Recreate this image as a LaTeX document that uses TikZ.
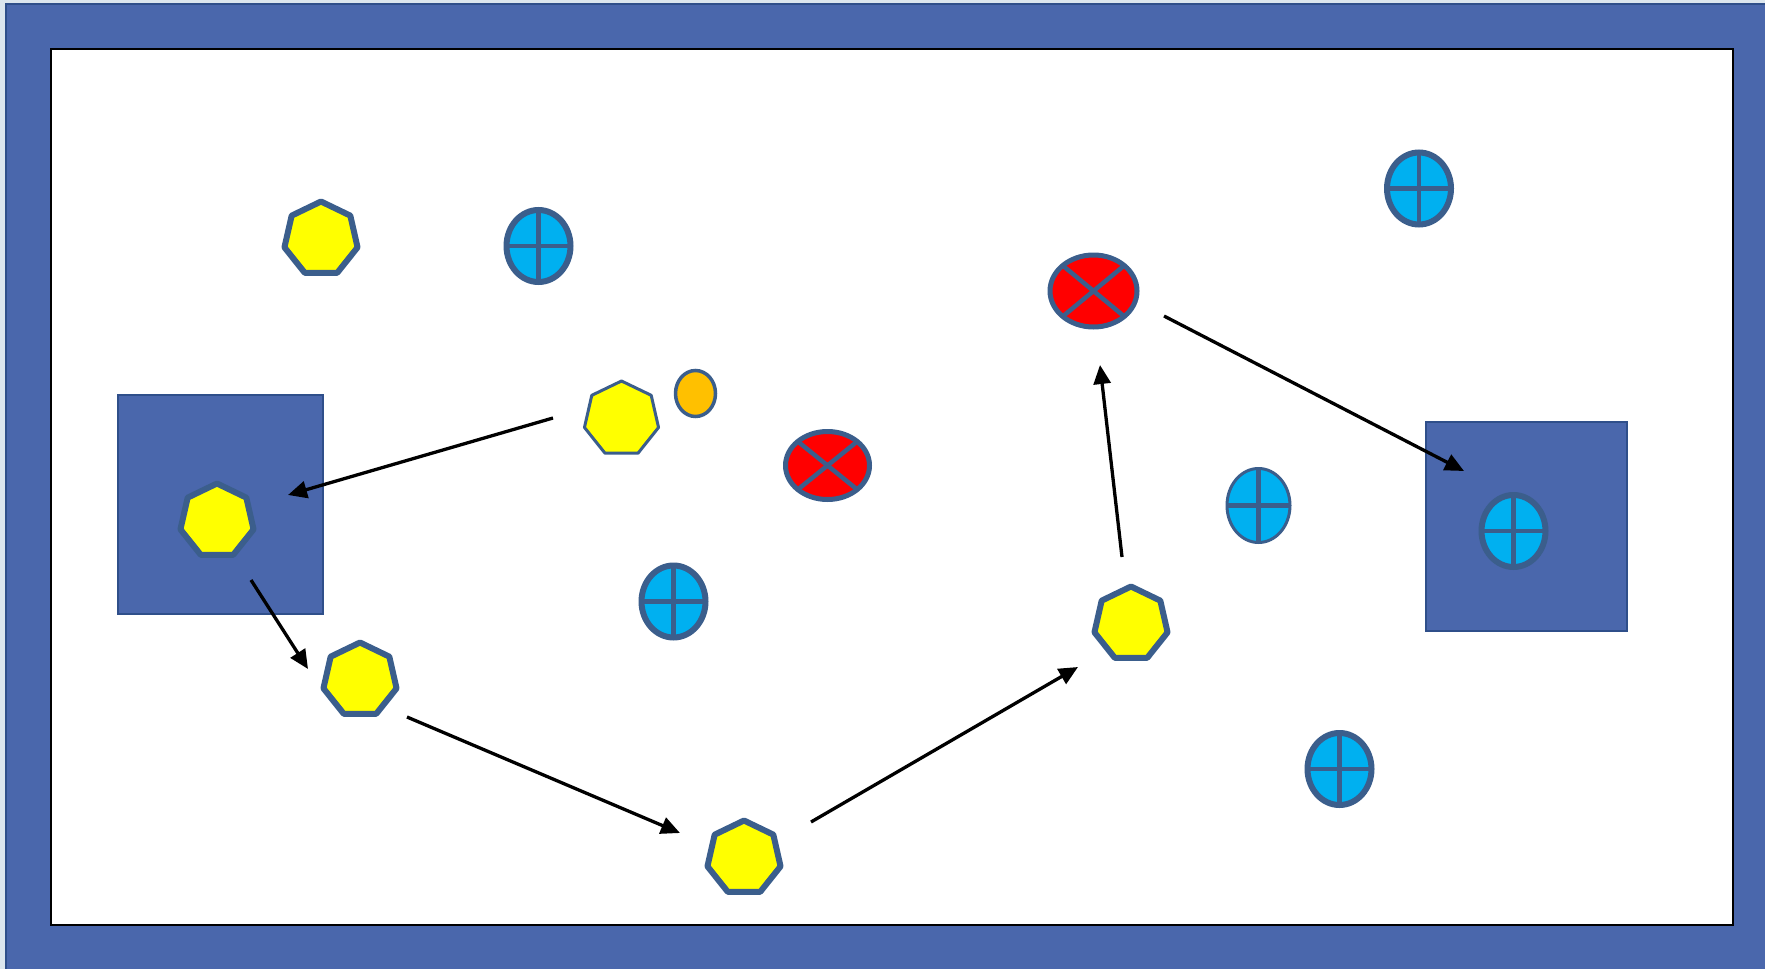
\documentclass[tikz,border=0pt]{standalone}
\usetikzlibrary{shapes.geometric,arrows.meta}
\definecolor{pagebg}{HTML}{DCE6EE}
\definecolor{framebl}{HTML}{4A67AC}
\definecolor{frameedge}{HTML}{2F4F8A}
\definecolor{outl}{HTML}{3B5E8C}
\definecolor{cyanfill}{HTML}{00B0F0}
\definecolor{orangefill}{HTML}{FFC000}
\definecolor{yellowfill}{HTML}{FFFF00}
\tikzset{
  hept/.style={regular polygon, regular polygon sides=7, minimum size=75pt,
    inner sep=0pt, outer sep=0pt, fill=yellowfill, draw=outl, line width=6pt, line join=round},
  heptthin/.style={hept, minimum size=76pt, line width=3pt},
  plus/.style={ellipse, minimum width=64pt, minimum height=72pt, inner sep=0pt,
    outer sep=0pt, fill=cyanfill, draw=outl, line width=6pt},
  plusthin/.style={plus, minimum width=63pt, minimum height=74pt, line width=3pt},
  cross/.style={ellipse, minimum width=84pt, minimum height=68pt, inner sep=0pt,
    outer sep=0pt, fill=red, draw=outl, line width=5pt},
  dot/.style={ellipse, minimum width=40pt, minimum height=46pt, inner sep=0pt,
    outer sep=0pt, fill=orangefill, draw=outl, line width=3.5pt},
  zone/.style={fill=framebl, draw=frameedge, line width=2pt},
  mark line/.style={draw=outl, line width=4.5pt},
  flow/.style={draw=black, line width=3.3pt, -{Triangle[length=19pt,width=17pt]}}
}
\newcommand{\plusmark}[1]{\draw[mark line] (#1.north) -- (#1.south) (#1.west) -- (#1.east);}
\newcommand{\crossmark}[1]{\draw[mark line] (#1.north east) -- (#1.south west) (#1.north west) -- (#1.south east);}
\begin{document}
\begin{tikzpicture}[x=1pt,y=-1pt]
\useasboundingbox (0,0) rectangle (1765,969);
% page background and frame
\fill[pagebg] (0,0) rectangle (1765,969);
\filldraw[fill=framebl, draw=frameedge, line width=2pt] (6,4) rectangle (1775,979);
\filldraw[fill=white, draw=black, line width=2pt] (51,49) rectangle (1733,925);
% shaded zones
\path[zone] (118,395) rectangle (323,614);
\path[zone] (1426,422) rectangle (1627,631);
% heptagons
\node[hept] (h1) at (321,239) {};
\node[heptthin] (h2) at (621.5,419) {};
\node[hept] (h3) at (217,521) {};
\node[hept] (h4) at (360,680) {};
\node[hept] (h5) at (744,858) {};
\node[hept] (h6) at (1131,624) {};
% cyan plus markers
\node[plus] (p1) at (538.5,246) {}; \plusmark{p1}
\node[plus] (p2) at (673.5,601.5) {}; \plusmark{p2}
\node[plus] (p3) at (1419,188.5) {}; \plusmark{p3}
\node[plusthin] (p4) at (1258.5,505.5) {}; \plusmark{p4}
\node[plus] (p5) at (1513.5,531) {}; \plusmark{p5}
\node[plus] (p6) at (1339.5,769) {}; \plusmark{p6}
% red cross markers
\node[cross] (x1) at (827.5,465.5) {}; \crossmark{x1}
\node[cross, minimum width=87pt, minimum height=72pt] (x2) at (1093.5,291) {}; \crossmark{x2}
% orange dot
\node[dot] (d1) at (695.5,393.5) {};
% arrow end points
\coordinate (a1s) at (553,418);  \coordinate (a1e) at (288,495);
\coordinate (a2s) at (251,580);  \coordinate (a2e) at (308,669);
\coordinate (a3s) at (407,717);  \coordinate (a3e) at (680,833);
\coordinate (a4s) at (811,822);  \coordinate (a4e) at (1078,667);
\coordinate (a5s) at (1122,557); \coordinate (a5e) at (1100,365);
\coordinate (a6s) at (1164,316); \coordinate (a6e) at (1464,471);
\draw[flow] (a1s) -- (a1e);
\draw[flow] (a2s) -- (a2e);
\draw[flow] (a3s) -- (a3e);
\draw[flow] (a4s) -- (a4e);
\draw[flow] (a5s) -- (a5e);
\draw[flow] (a6s) -- (a6e);
\end{tikzpicture}
\end{document}
